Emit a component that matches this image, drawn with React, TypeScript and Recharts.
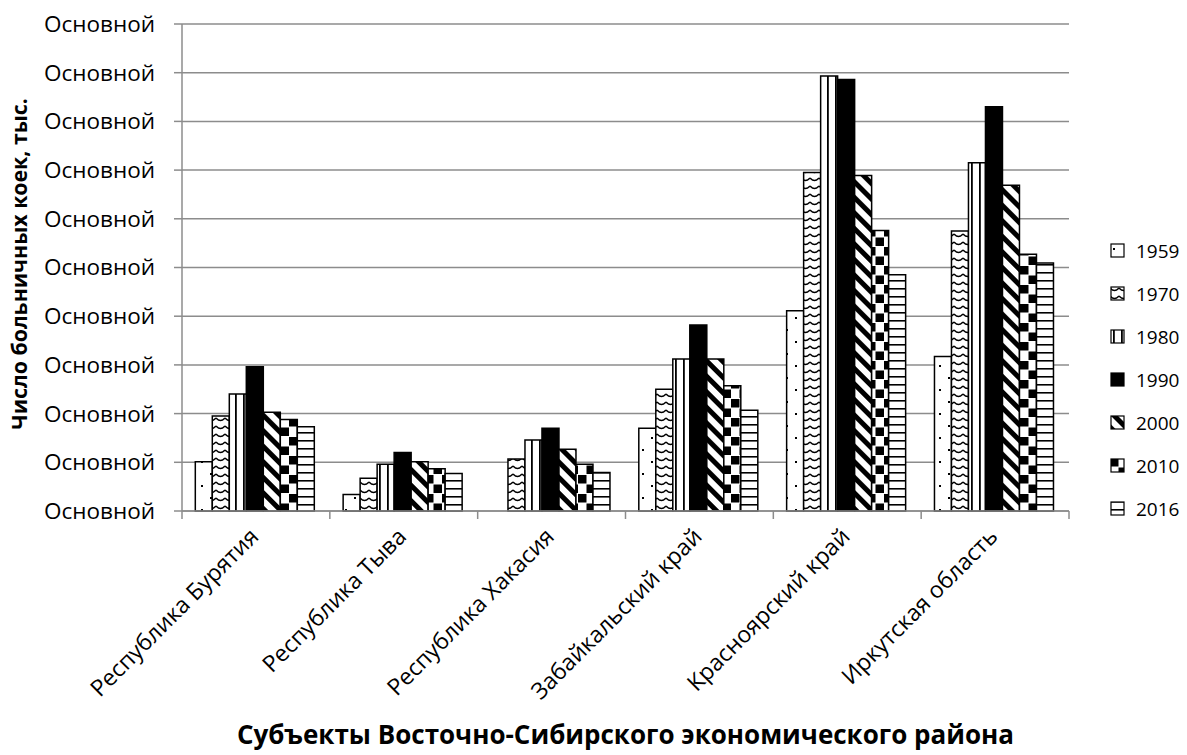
import React from "react";
import { BarChart, Bar, XAxis, YAxis, CartesianGrid } from "recharts";

// Субъекты и годы переписи коечного фонда
const regions = [
  "Республика Бурятия",
  "Республика Тыва",
  "Республика Хакасия",
  "Забайкальский край",
  "Красноярский край",
  "Иркутская область",
];
const years = ["1959", "1970", "1980", "1990", "2000", "2010", "2016"];

// значения в делениях оси (подписи оси в оригинале сломаны: "Основной")
const v1959 = [1.01, 0.34, null, 1.7, 4.11, 3.17];
const v1970 = [1.95, 0.67, 1.07, 2.5, 6.95, 5.75];
const v1980 = [2.4, 0.96, 1.46, 3.12, 8.93, 7.15];
const v1990 = [2.96, 1.2, 1.7, 3.82, 8.86, 8.3];
const v2000 = [2.03, 1.01, 1.27, 3.12, 6.89, 6.69];
const v2010 = [1.88, 0.87, 0.96, 2.57, 5.76, 5.27];
const v2016 = [1.73, 0.77, 0.79, 2.07, 4.85, 5.09];
const yTicks = [0, 1, 2, 3, 4, 5, 6, 7, 8, 9, 10];
const yTickLabel = "Основной";

const seriesValues = [v1959, v1970, v1980, v1990, v2000, v2010, v2016];

const data = regions.map((name, i) => {
  const row: any = { name };
  years.forEach((y, k) => {
    row[y] = seriesValues[k][i];
  });
  return row;
});

const W = 1187;
const H = 755;
const PLOT_LEFT = 182;
const PLOT_RIGHT = 1069;
const PLOT_TOP = 24;
const PLOT_BOTTOM = 511;
const STEP = (PLOT_RIGHT - PLOT_LEFT) / regions.length;
const FONT = "'Open Sans', sans-serif";
const GRID = "#8c8c8c";

function Patterns() {
  return (
    <defs>
      <pattern id="p1959" width={18} height={24} patternUnits="userSpaceOnUse">
        <rect width={18} height={24} fill="#fff" />
        <rect x={3} y={5} width={2} height={2} fill="#000" />
        <rect x={12} y={17} width={2} height={2} fill="#000" />
      </pattern>
      <pattern id="p1970" width={9} height={8} patternUnits="userSpaceOnUse">
        <rect width={9} height={8} fill="#fff" />
        <path d="M0,2 Q4.5,7 9,2" stroke="#000" strokeWidth={1.5} fill="none" />
      </pattern>
      <pattern id="p1980" width={8} height={8} patternUnits="userSpaceOnUse">
        <rect width={8} height={8} fill="#fff" />
        <rect x={3} width={1.8} height={8} fill="#000" />
      </pattern>
      <pattern id="p1990" width={8} height={8} patternUnits="userSpaceOnUse">
        <rect width={8} height={8} fill="#000" />
      </pattern>
      <pattern
        id="p2000"
        width={11}
        height={11}
        patternUnits="userSpaceOnUse"
        patternTransform="rotate(-45)"
      >
        <rect width={11} height={11} fill="#fff" />
        <rect width={5} height={11} fill="#000" />
      </pattern>
      <pattern id="p2010" width={17} height={19} patternUnits="userSpaceOnUse">
        <rect width={17} height={19} fill="#fff" />
        <rect x={0} y={0} width={8.5} height={8.5} fill="#000" />
        <rect x={8.5} y={9.5} width={8.5} height={8.5} fill="#000" />
      </pattern>
      <pattern id="p2016" width={8} height={8} patternUnits="userSpaceOnUse">
        <rect width={8} height={8} fill="#fff" />
        <rect y={0} width={8} height={1.6} fill="#000" />
      </pattern>
    </defs>
  );
}

function RegionTick(props: any) {
  const { x, y, payload, index } = props;
  const lx = x - STEP / 2;
  const tx = x + 4;
  const ty = y + 27;
  return (
    <g>
      <line x1={lx} x2={lx} y1={y} y2={y + 8} stroke={GRID} strokeWidth={1.5} />
      {index === regions.length - 1 && (
        <line
          x1={x + STEP / 2}
          x2={x + STEP / 2}
          y1={y}
          y2={y + 8}
          stroke={GRID}
          strokeWidth={1.5}
        />
      )}
      <text
        x={tx}
        y={ty}
        textAnchor="end"
        transform={`rotate(-45 ${tx} ${ty})`}
        fontSize={23}
        fontFamily={FONT}
        fill="#000"
      >
        {payload.value}
      </text>
    </g>
  );
}

function LegendBox() {
  return (
    <div
      style={{
        position: "absolute",
        left: 1110,
        top: 229,
        fontFamily: FONT,
        fontSize: 19,
        color: "#000",
      }}
    >
      {years.map((y) => (
        <div
          key={y}
          style={{ height: 43, display: "flex", alignItems: "center" }}
        >
          <svg width={15} height={15} style={{ marginRight: 11 }}>
            <rect
              x={1}
              y={1}
              width={13}
              height={13}
              fill={`url(#p${y})`}
              stroke="#000"
              strokeWidth={1.2}
            />
          </svg>
          <span>{y}</span>
        </div>
      ))}
    </div>
  );
}

export default function App() {
  return (
    <div
      style={{
        position: "absolute",
        left: 0,
        top: 0,
        width: W,
        height: H,
        background: "#fff",
      }}
    >
      <BarChart
        width={W}
        height={H}
        data={data}
        margin={{ top: PLOT_TOP, right: W - PLOT_RIGHT, left: 0, bottom: 0 }}
        barCategoryGap="9%"
        barGap={0}
      >
        <Patterns />
        <CartesianGrid
          vertical={false}
          stroke={GRID}
          strokeWidth={1.5}
          strokeDasharray=""
        />
        <XAxis
          dataKey="name"
          height={H - PLOT_BOTTOM}
          axisLine={{ stroke: GRID, strokeWidth: 1.5 }}
          tickLine={false}
          tickSize={0}
          tickMargin={0}
          interval={0}
          tick={<RegionTick />}
        />
        <YAxis
          width={PLOT_LEFT}
          domain={[0, 10]}
          ticks={yTicks}
          interval={0}
          tickFormatter={() => yTickLabel}
          axisLine={{ stroke: GRID, strokeWidth: 1.5 }}
          tickLine={{ stroke: GRID, strokeWidth: 1.5 }}
          tickSize={8}
          tickMargin={19}
          tick={{ fill: "#000", fontSize: 22.5, fontFamily: FONT }}
        />
        {years.map((y) => (
          <Bar
            key={y}
            dataKey={y}
            fill={`url(#p${y})`}
            stroke="#000"
            strokeWidth={1.5}
            isAnimationActive={false}
          />
        ))}
      </BarChart>
      <div
        style={{
          position: "absolute",
          left: 18,
          top: 264,
          transform: "translate(-50%, -50%) rotate(-90deg)",
          whiteSpace: "nowrap",
          fontFamily: FONT,
          fontWeight: 700,
          fontSize: 21.3,
        }}
      >
        Число больничных коек, тыс.
      </div>
      <div
        style={{
          position: "absolute",
          left: (PLOT_LEFT + PLOT_RIGHT) / 2,
          top: 734,
          transform: "translate(-50%, -50%)",
          whiteSpace: "nowrap",
          fontFamily: FONT,
          fontWeight: 700,
          fontSize: 26,
          lineHeight: "32px",
        }}
      >
        Субъекты Восточно-Сибирского экономического района
      </div>
      <LegendBox />
    </div>
  );
}
